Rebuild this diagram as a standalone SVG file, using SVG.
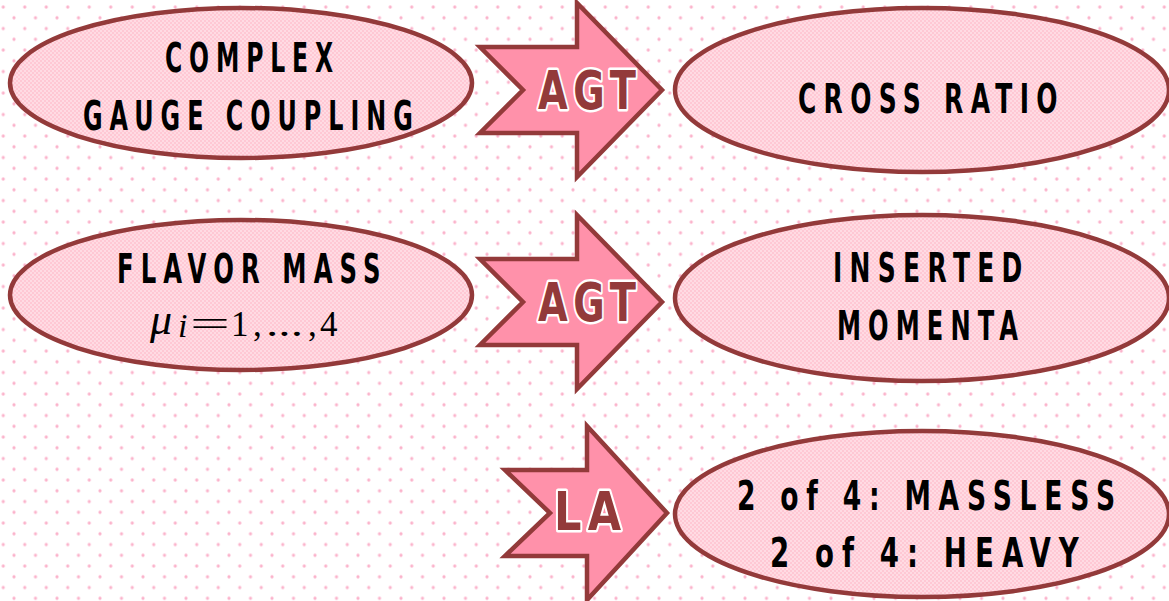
<svg xmlns="http://www.w3.org/2000/svg" width="1169" height="601" viewBox="0 0 1169 601">
<defs>
<pattern id="dots" patternUnits="userSpaceOnUse" x="3.25" y="7.05" width="21.5" height="21.5">
<circle cx="0" cy="0" r="1.6" fill="#fbb3cb"/>
<circle cx="21.5" cy="0" r="1.6" fill="#fbb3cb"/>
<circle cx="0" cy="21.5" r="1.6" fill="#fbb3cb"/>
<circle cx="21.5" cy="21.5" r="1.6" fill="#fbb3cb"/>
<circle cx="10.75" cy="10.75" r="1.6" fill="#fbb3cb"/>
</pattern>
<pattern id="check" patternUnits="userSpaceOnUse" width="4" height="4">
<rect width="4" height="4" fill="#ffdbe3"/>
<rect width="2" height="2" fill="#ffc8d4"/>
<rect x="2" y="2" width="2" height="2" fill="#ffc8d4"/>
</pattern>
</defs>
<style>
.node ellipse{fill:url(#check);stroke:#933a3a;stroke-width:4.5}
.lbl{font-family:"DejaVu Sans","Liberation Sans",sans-serif;font-weight:bold;font-size:41px;fill:#000;letter-spacing:12px}
.arrow polygon{fill:#ff91aa;stroke:#933a3a;stroke-width:4.5;stroke-linejoin:miter}
.atxt{font-family:"DejaVu Sans","Liberation Sans",sans-serif;font-weight:bold;font-size:54px;letter-spacing:8px;fill:#933a3a;stroke:#fff;stroke-width:5;stroke-linejoin:round;paint-order:stroke fill}
.math{font-family:"Liberation Serif","DejaVu Serif",serif;fill:#000;font-size:35px}
.it{font-style:italic}
</style>
<rect width="1169" height="601" fill="#fff"/>
<rect width="1169" height="601" fill="url(#dots)"/>

<g id="connectors">
<g class="arrow" id="arrow-agt-1">
<polygon points="480,47 577,47 577,3 662,90 577,177 577,133 480,133 523,90"/>
<text class="atxt" transform="translate(538 109) scale(0.72 1)" x="0" y="0" textLength="144" lengthAdjust="spacingAndGlyphs">AGT</text>
</g>
<g class="arrow" id="arrow-agt-2">
<polygon points="480,259 577,259 577,215 662,302 577,389 577,345 480,345 523,302"/>
<text class="atxt" transform="translate(538 321) scale(0.72 1)" x="0" y="0" textLength="144" lengthAdjust="spacingAndGlyphs">AGT</text>
</g>
<g class="arrow" id="arrow-la">
<polygon points="505,470 587,470 587,426 667,513 587,600 587,556 505,556 550,513"/>
<text class="atxt" transform="translate(554 530) scale(0.8 1)" x="0" y="0" textLength="92" lengthAdjust="spacingAndGlyphs">LA</text>
</g>
</g>

<g id="node-complex-gauge" class="node">
<ellipse cx="241" cy="83" rx="231" ry="75"/>
<text class="lbl" transform="translate(165 72) scale(0.57 1)" x="0" y="0" textLength="307" lengthAdjust="spacingAndGlyphs">COMPLEX</text>
<text class="lbl" transform="translate(83 130) scale(0.57 1)" x="0" y="0" textLength="591" lengthAdjust="spacingAndGlyphs">GAUGE COUPLING</text>
</g>
<g id="node-cross-ratio" class="node">
<ellipse cx="922" cy="90" rx="247" ry="82"/>
<text class="lbl" transform="translate(798 113) scale(0.57 1)" x="0" y="0" textLength="468" lengthAdjust="spacingAndGlyphs">CROSS RATIO</text>
</g>
<g id="node-flavor-mass" class="node">
<ellipse cx="241" cy="295" rx="231" ry="75"/>
<text class="lbl" transform="translate(117 283) scale(0.57 1)" x="0" y="0" textLength="475" lengthAdjust="spacingAndGlyphs">FLAVOR MASS</text>
<text class="math it" x="150" y="334" style="font-size:44px">μ</text>
<text class="math it" x="178" y="337" style="font-size:34px">i</text>
<text class="math" x="190" y="336" textLength="40" lengthAdjust="spacingAndGlyphs">=</text>
<text class="math" x="231" y="336">1</text>
<text class="math" x="253" y="336">,</text>
<text class="math" x="266" y="336" textLength="37" lengthAdjust="spacingAndGlyphs">...</text>
<text class="math" x="308" y="336">,</text>
<text class="math" x="320" y="336">4</text>
</g>
<g id="node-inserted-momenta" class="node">
<ellipse cx="922" cy="298" rx="247" ry="83"/>
<text class="lbl" transform="translate(833 282) scale(0.57 1)" x="0" y="0" textLength="345" lengthAdjust="spacingAndGlyphs">INSERTED</text>
<text class="lbl" transform="translate(837 340) scale(0.57 1)" x="0" y="0" textLength="330" lengthAdjust="spacingAndGlyphs">MOMENTA</text>
</g>
<g id="node-massless-heavy" class="node">
<ellipse cx="922" cy="514" rx="247" ry="83"/>
<text class="lbl" transform="translate(737 510) scale(0.57 1)" x="0" y="0" textLength="677" lengthAdjust="spacingAndGlyphs">2 of 4: MASSLESS</text>
<text class="lbl" transform="translate(770 567) scale(0.57 1)" x="0" y="0" textLength="556" lengthAdjust="spacingAndGlyphs">2 of 4: HEAVY</text>
</g>
</svg>
